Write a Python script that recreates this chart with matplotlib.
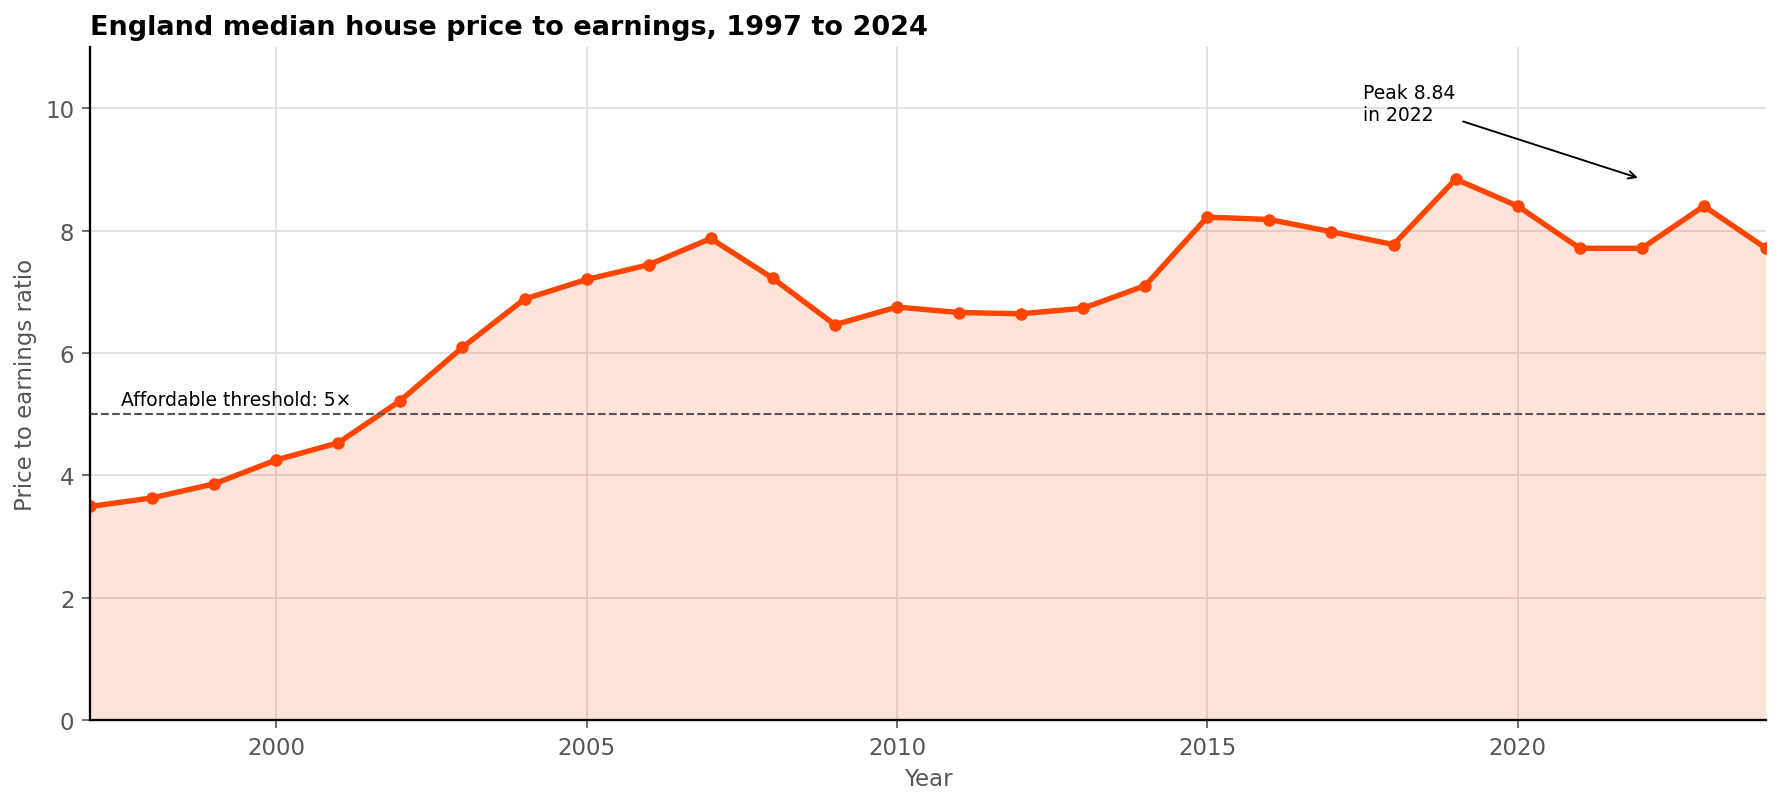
import matplotlib
matplotlib.use("Agg")
import matplotlib.pyplot as plt

# Price to earnings ratio by year (England median)
years = [1997, 1998, 1999, 2000, 2001, 2002, 2003, 2004, 2005, 2006,
         2007, 2008, 2009, 2010, 2011, 2012, 2013, 2014, 2015, 2016,
         2017, 2018, 2019, 2020, 2021, 2022, 2023, 2024]
ratios = [3.49, 3.63, 3.86, 4.25, 4.53, 5.22, 6.09, 6.88, 7.20, 7.44,
          7.87, 7.22, 6.46, 6.75, 6.66, 6.64, 6.73, 7.10, 8.22, 8.18,
          7.98, 7.77, 8.84, 8.40, 7.71, 7.71, 8.40, 7.71]
threshold = 5
peak_value = 8.84
peak_label_year = 2022

color = "orangered"
grey = "#555555"

fig = plt.figure(figsize=(1781 / 150, 805 / 150), dpi=150)
ax = fig.add_axes([90 / 1781, 1 - 721 / 805, (1766 - 90) / 1781, (721 - 48) / 805])

ax.fill_between(years, ratios, 0, color=color, alpha=0.15, linewidth=0)
ax.plot(years, ratios, color=color, linewidth=2.6, marker="o", markersize=5)

ax.axhline(threshold, color=grey, linestyle="--", linewidth=1)
ax.text(1997.5, threshold + 0.08, f"Affordable threshold: {threshold}\u00d7",
        fontsize=9, color="black", va="bottom")

ax.annotate(f"Peak {peak_value}\nin {peak_label_year}",
            xy=(peak_label_year, peak_value), xytext=(2017.5, 9.8),
            fontsize=9, arrowprops=dict(arrowstyle="->", color="black", lw=0.9))

ax.set_xlim(1997, 2024)
ax.set_ylim(0, 11)
ax.set_yticks([0, 2, 4, 6, 8, 10])
ax.set_xticks([2000, 2005, 2010, 2015, 2020])

ax.grid(True, color="#dddddd", linewidth=0.8)
ax.set_axisbelow(True)
for side in ["top", "right"]:
    ax.spines[side].set_visible(False)
for side in ["left", "bottom"]:
    ax.spines[side].set_linewidth(1.1)

ax.tick_params(colors=grey, labelsize=11, length=4)
ax.set_xlabel("Year", color=grey, fontsize=11)
ax.set_ylabel("Price to earnings ratio", color=grey, fontsize=11)
ax.set_title("England median house price to earnings, 1997 to 2024",
             loc="left", fontsize=13, fontweight="bold", pad=6)

fig.savefig("out.png", dpi=150)
